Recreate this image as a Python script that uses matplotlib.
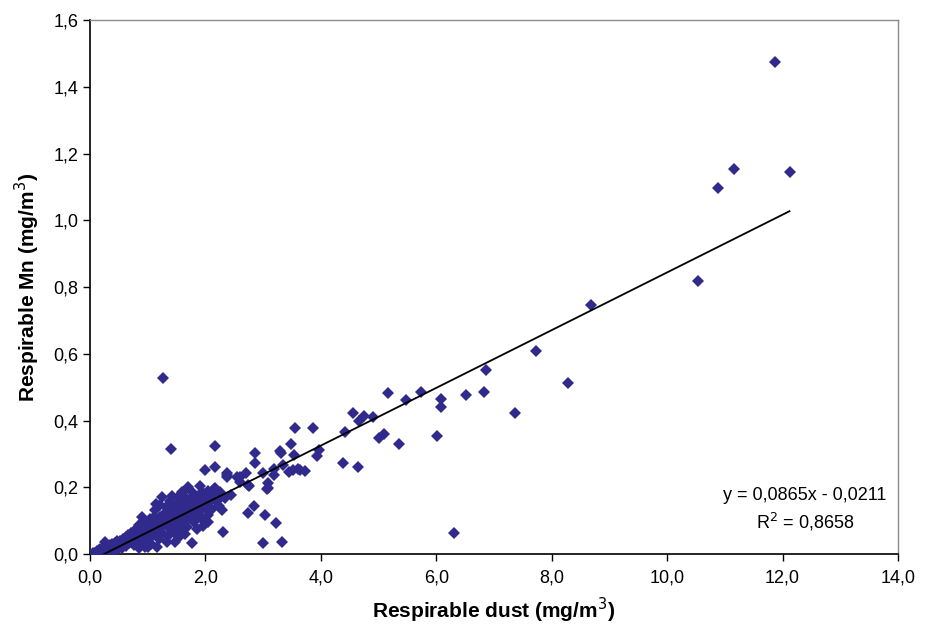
import matplotlib.pyplot as plt
from matplotlib.ticker import FuncFormatter, MultipleLocator

plt.rcParams["font.family"] = ["Liberation Sans", "DejaVu Sans"]

# respirable dust (mg/m3) and respirable Mn (mg/m3)
dust = [
    0.05, 0.08, 0.10, 0.12, 0.14, 0.15, 0.17, 0.18, 0.20, 0.21, 0.22, 0.24, 0.25, 0.26, 0.27,
    0.28, 0.30, 0.31, 0.32, 0.34, 0.35, 0.36, 0.38, 0.39, 0.40, 0.42, 0.43, 0.44, 0.46, 0.47,
    0.48, 0.50, 0.51, 0.52, 0.54, 0.55, 0.57, 0.58, 0.60,
    0.62, 0.63, 0.65, 0.66, 0.68, 0.70, 0.71, 0.73, 0.74, 0.76, 0.77, 0.79, 0.80, 0.82, 0.84,
    0.84, 0.85, 0.87, 0.88, 0.90, 0.91, 0.93, 0.94, 0.96, 0.97, 0.99, 1.00, 1.01, 1.02, 1.04,
    1.05, 1.07, 1.08, 1.10, 1.11, 1.13, 1.13, 1.15, 1.16, 1.17, 1.19, 1.21, 1.21, 1.23, 1.25,
    1.25, 1.27, 1.28, 1.30,
    1.32, 1.33, 1.34, 1.36, 1.37, 1.39, 1.40, 1.40, 1.42, 1.44, 1.45, 1.47, 1.47, 1.49, 1.50,
    1.52, 1.53, 1.54, 1.56, 1.57, 1.59, 1.60, 1.62, 1.63, 1.65, 1.66, 1.68, 1.69, 1.71, 1.72,
    1.74, 1.76, 1.76, 1.77, 1.79, 1.80, 1.82, 1.84, 1.85, 1.87, 1.89, 1.90, 1.92, 1.94, 1.96,
    1.97, 1.99, 2.00, 2.02, 2.04, 2.05, 2.07, 2.09, 2.11, 2.13, 2.15, 2.17, 2.17, 2.17, 2.19,
    2.21, 2.23, 2.25, 2.27, 2.28, 2.31, 2.34, 2.37, 2.37, 2.37, 2.45, 2.54, 2.60, 2.60, 2.70,
    2.73, 2.74, 2.76, 2.84, 2.85, 2.85, 2.99, 2.99, 3.03, 3.07, 3.08, 3.09, 3.18, 3.19, 3.22,
    3.29, 3.31, 3.33, 3.34, 3.45, 3.49, 3.52, 3.54, 3.56, 3.61, 3.64, 3.73, 3.86, 3.93, 3.97,
    4.38, 4.41, 4.55, 4.64, 4.66, 4.75, 4.90, 5.00, 5.09, 5.17, 5.35, 5.48, 5.73, 6.02, 6.09,
    6.09, 6.31, 6.51, 6.83, 6.86, 7.36, 7.72, 8.29, 8.68, 10.53, 10.88, 11.15, 11.87, 12.12,
    1.05, 1.20, 1.35, 1.55, 1.65, 1.85, 1.95, 2.05, 0.95, 1.42, 1.60, 1.15, 0.90, 1.70, 1.90,
]
mn = [
    0.002, 0.004, 0.003, 0.008, 0.005, 0.012, 0.007, 0.015, 0.010, 0.004, 0.018, 0.012, 0.006, 0.037, 0.020,
    0.015, 0.009, 0.024, 0.017, 0.028, 0.012, 0.021, 0.030, 0.016, 0.025, 0.010, 0.033, 0.020, 0.028, 0.038,
    0.015, 0.031, 0.022, 0.040, 0.027, 0.018, 0.035, 0.045, 0.030,
    0.050, 0.024, 0.040, 0.058, 0.033, 0.047, 0.062, 0.038, 0.055, 0.028, 0.068, 0.045, 0.060, 0.035, 0.087,
    0.017, 0.052, 0.072, 0.043, 0.065, 0.080, 0.050, 0.095, 0.060, 0.075, 0.040, 0.088, 0.022, 0.068, 0.105,
    0.078, 0.055, 0.092, 0.070, 0.112, 0.132, 0.085, 0.060, 0.022, 0.098, 0.075, 0.147, 0.110, 0.088, 0.172,
    0.062, 0.527, 0.120, 0.095,
    0.140, 0.037, 0.108, 0.078, 0.128, 0.158, 0.315, 0.090, 0.115, 0.135, 0.065, 0.037, 0.102, 0.148, 0.122,
    0.085, 0.172, 0.110, 0.138, 0.070, 0.125, 0.155, 0.098, 0.142, 0.118, 0.168, 0.080, 0.132, 0.150, 0.108,
    0.162, 0.187, 0.032, 0.125, 0.145, 0.095, 0.170, 0.135, 0.115, 0.158, 0.178, 0.128, 0.150, 0.105, 0.182,
    0.165, 0.252, 0.140, 0.172, 0.118, 0.190, 0.155, 0.178, 0.135, 0.168, 0.195, 0.197, 0.324, 0.262, 0.160,
    0.182, 0.145, 0.187, 0.170, 0.132, 0.067, 0.167, 0.237, 0.242, 0.230, 0.177, 0.232, 0.230, 0.217, 0.244,
    0.122, 0.207, 0.205, 0.145, 0.272, 0.303, 0.244, 0.032, 0.118, 0.194, 0.212, 0.197, 0.237, 0.254, 0.092,
    0.310, 0.304, 0.037, 0.267, 0.247, 0.330, 0.252, 0.297, 0.377, 0.255, 0.252, 0.250, 0.378, 0.295, 0.311,
    0.274, 0.365, 0.422, 0.261, 0.398, 0.415, 0.411, 0.348, 0.360, 0.482, 0.330, 0.463, 0.484, 0.353, 0.466,
    0.440, 0.064, 0.477, 0.485, 0.550, 0.422, 0.609, 0.512, 0.746, 0.818, 1.098, 1.154, 1.475, 1.144,
    0.030, 0.045, 0.055, 0.050, 0.060, 0.075, 0.085, 0.095, 0.020, 0.175, 0.185, 0.150, 0.110, 0.200, 0.205,
]

slope = 0.0865
intercept = -0.0211
equation = "y = 0,0865x - 0,0211\nR$^2$ = 0,8658"

fig = plt.figure(figsize=(9.3, 6.27), dpi=100)
ax = fig.add_axes([0.0968, 0.1164, 0.8688, 0.8516])

ax.plot(dust, mn, linestyle="none", marker="D", markersize=6.0,
        color="#302a8c", markeredgewidth=0, zorder=3)

x0, x1 = min(dust), max(dust)
ax.plot([x0, x1], [slope * x0 + intercept, slope * x1 + intercept],
        color="black", linewidth=1.3, zorder=4)

ax.set_xlim(0, 14)
ax.set_ylim(0, 1.6)
ax.xaxis.set_major_locator(MultipleLocator(2))
ax.yaxis.set_major_locator(MultipleLocator(0.2))
comma = FuncFormatter(lambda v, _: f"{v:.1f}".replace(".", ","))
ax.xaxis.set_major_formatter(comma)
ax.yaxis.set_major_formatter(comma)
ax.tick_params(direction="out", length=5, width=1, labelsize=13, colors="black")
ax.tick_params(axis="x", pad=6)

for side in ["left", "bottom"]:
    ax.spines[side].set_color("black")
    ax.spines[side].set_linewidth(1.2)
for side in ["top", "right"]:
    ax.spines[side].set_color("#8c8c8c")
    ax.spines[side].set_linewidth(1.0)

ax.set_xlabel("Respirable dust (mg/m$^3$)", fontsize=15, fontweight="bold", labelpad=7)
ax.set_ylabel("Respirable Mn (mg/m$^3$)", fontsize=15, fontweight="bold", labelpad=8)

ax.text(12.39, 0.132, equation, ha="center", va="center", fontsize=13,
        multialignment="center", linespacing=1.35)

fig.savefig("out.png", dpi=100)
